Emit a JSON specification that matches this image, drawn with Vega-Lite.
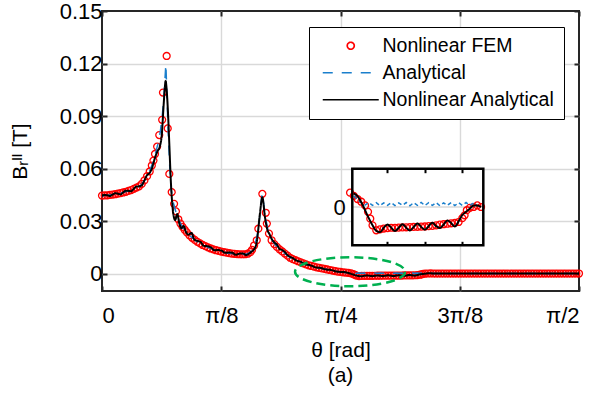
{
"$schema": "https://vega.github.io/schema/vega-lite/v6.json",
"width": 477, "height": 280,
"autosize": {"type": "none"},
"padding": {"left": 102, "top": 11, "right": 18, "bottom": 108},
"background": "white",
"config": {"font": "Liberation Sans", "view": {"stroke": "#262626", "strokeWidth": 2}},
"title": {"text": "(a)", "orient": "bottom", "anchor": "middle", "fontSize": 21, "fontWeight": "normal", "color": "#000", "offset": 5},
"datasets": {
"fem": [{"deg":0,"v":0.0445},{"deg":0.5,"v":0.0446},{"deg":1,"v":0.0447},{"deg":1.5,"v":0.0449},{"deg":2,"v":0.0451},{"deg":2.5,"v":0.0453},{"deg":3,"v":0.0456},{"deg":3.5,"v":0.0459},{"deg":4,"v":0.0463},{"deg":4.5,"v":0.0467},{"deg":5,"v":0.0472},{"deg":5.5,"v":0.0477},{"deg":6,"v":0.0484},{"deg":6.5,"v":0.0491},{"deg":7,"v":0.0498},{"deg":7.5,"v":0.0512},{"deg":8,"v":0.0532},{"deg":8.5,"v":0.0556},{"deg":9,"v":0.0583},{"deg":9.4,"v":0.0617},{"deg":9.7,"v":0.0645},{"deg":10,"v":0.0683},{"deg":10.4,"v":0.0725},{"deg":10.8,"v":0.0791},{"deg":11.35,"v":0.0878},{"deg":11.5,"v":0.1034},{"deg":12.2,"v":0.1243},{"deg":12.4,"v":0.0829},{"deg":12.7,"v":0.0569},{"deg":13.15,"v":0.0465},{"deg":13.6,"v":0.0398},{"deg":13.95,"v":0.0355},{"deg":14.4,"v":0.031},{"deg":14.8,"v":0.0285},{"deg":15.2,"v":0.0266},{"deg":15.6,"v":0.025},{"deg":16,"v":0.0235},{"deg":16.5,"v":0.0218},{"deg":17,"v":0.0204},{"deg":17.5,"v":0.0192},{"deg":18,"v":0.0181},{"deg":18.5,"v":0.0172},{"deg":19,"v":0.0163},{"deg":19.5,"v":0.0156},{"deg":20,"v":0.0149},{"deg":20.5,"v":0.0143},{"deg":21,"v":0.0138},{"deg":21.5,"v":0.0133},{"deg":22,"v":0.0129},{"deg":22.5,"v":0.0125},{"deg":23,"v":0.0122},{"deg":23.5,"v":0.0119},{"deg":24,"v":0.0116},{"deg":24.5,"v":0.0114},{"deg":25,"v":0.0112},{"deg":25.5,"v":0.0111},{"deg":26,"v":0.011},{"deg":26.5,"v":0.011},{"deg":27,"v":0.011},{"deg":27.5,"v":0.0113},{"deg":28,"v":0.0122},{"deg":28.3,"v":0.0135},{"deg":28.7,"v":0.016},{"deg":29.2,"v":0.019},{"deg":29.5,"v":0.0256},{"deg":30.25,"v":0.0455},{"deg":30.9,"v":0.0347},{"deg":31.1,"v":0.0285},{"deg":31.5,"v":0.0228},{"deg":32,"v":0.019},{"deg":32.5,"v":0.0168},{"deg":33,"v":0.0152},{"deg":33.5,"v":0.0138},{"deg":34,"v":0.0126},{"deg":34.5,"v":0.0114},{"deg":35,"v":0.0102},{"deg":35.5,"v":0.009},{"deg":36,"v":0.0082},{"deg":36.5,"v":0.0076},{"deg":37,"v":0.007},{"deg":37.5,"v":0.0064},{"deg":38,"v":0.0058},{"deg":38.5,"v":0.0052},{"deg":39,"v":0.0047},{"deg":39.5,"v":0.0043},{"deg":40,"v":0.0039},{"deg":40.5,"v":0.0035},{"deg":41,"v":0.0032},{"deg":41.5,"v":0.0029},{"deg":42,"v":0.0026},{"deg":42.5,"v":0.0023},{"deg":43,"v":0.002},{"deg":43.5,"v":0.0017},{"deg":44,"v":0.0014},{"deg":44.5,"v":0.0011},{"deg":45,"v":0.0009},{"deg":45.5,"v":0.0007},{"deg":46,"v":0.0005},{"deg":46.5,"v":0.00033},{"deg":47,"v":0.0001},{"deg":47.4,"v":-0.0003},{"deg":47.7,"v":-0.00073},{"deg":48,"v":-0.00115},{"deg":48.5,"v":-0.00146},{"deg":49,"v":-0.0014},{"deg":49.5,"v":-0.00135},{"deg":50,"v":-0.00132},{"deg":50.5,"v":-0.0013},{"deg":51,"v":-0.0013},{"deg":51.5,"v":-0.00129},{"deg":52,"v":-0.00128},{"deg":52.5,"v":-0.00127},{"deg":53,"v":-0.00126},{"deg":53.5,"v":-0.00125},{"deg":54,"v":-0.00124},{"deg":54.5,"v":-0.00123},{"deg":55,"v":-0.00122},{"deg":55.5,"v":-0.0012},{"deg":56,"v":-0.00118},{"deg":56.5,"v":-0.00115},{"deg":57,"v":-0.0011},{"deg":57.5,"v":-0.00108},{"deg":58,"v":-0.00105},{"deg":58.5,"v":-0.00102},{"deg":59,"v":-0.001},{"deg":59.5,"v":-0.00094},{"deg":60,"v":-0.0007},{"deg":60.3,"v":-0.00052},{"deg":60.6,"v":-0.0002},{"deg":61,"v":-0.00005},{"deg":61.5,"v":0},{"deg":62,"v":0.0001},{"deg":62.5,"v":0},{"deg":63,"v":0},{"deg":63.5,"v":0},{"deg":64,"v":0},{"deg":64.5,"v":0},{"deg":65,"v":0},{"deg":65.5,"v":0},{"deg":66,"v":0},{"deg":66.5,"v":0},{"deg":67,"v":0},{"deg":67.5,"v":0},{"deg":68,"v":0},{"deg":68.5,"v":0},{"deg":69,"v":0},{"deg":69.5,"v":0},{"deg":70,"v":0},{"deg":70.5,"v":0},{"deg":71,"v":0},{"deg":71.5,"v":0},{"deg":72,"v":0},{"deg":72.5,"v":0},{"deg":73,"v":0},{"deg":73.5,"v":0},{"deg":74,"v":0},{"deg":74.5,"v":0},{"deg":75,"v":0},{"deg":75.5,"v":0},{"deg":76,"v":0},{"deg":76.5,"v":0},{"deg":77,"v":0},{"deg":77.5,"v":0},{"deg":78,"v":0},{"deg":78.5,"v":0},{"deg":79,"v":0},{"deg":79.5,"v":0},{"deg":80,"v":0},{"deg":80.5,"v":0},{"deg":81,"v":0},{"deg":81.5,"v":0},{"deg":82,"v":0},{"deg":82.5,"v":0},{"deg":83,"v":0},{"deg":83.5,"v":0},{"deg":84,"v":0},{"deg":84.5,"v":0},{"deg":85,"v":0},{"deg":85.5,"v":0},{"deg":86,"v":0},{"deg":86.5,"v":0},{"deg":87,"v":0},{"deg":87.5,"v":0},{"deg":88,"v":0},{"deg":88.5,"v":0},{"deg":89,"v":0},{"deg":89.5,"v":0},{"deg":90,"v":0}],
"ana": [{"deg":0,"v":0.0444},{"deg":1,"v":0.0447},{"deg":2,"v":0.0451},{"deg":3,"v":0.0456},{"deg":4,"v":0.0463},{"deg":5,"v":0.0472},{"deg":6,"v":0.0484},{"deg":7,"v":0.0498},{"deg":7.5,"v":0.051},{"deg":8,"v":0.053},{"deg":8.5,"v":0.0555},{"deg":9,"v":0.0585},{"deg":9.5,"v":0.0625},{"deg":10,"v":0.0675},{"deg":10.5,"v":0.0735},{"deg":11,"v":0.081},{"deg":11.4,"v":0.091},{"deg":11.7,"v":0.102},{"deg":11.9,"v":0.112},{"deg":12.05,"v":0.1195},{"deg":12.25,"v":0.102},{"deg":12.5,"v":0.08},{"deg":12.8,"v":0.06},{"deg":13.1,"v":0.047},{"deg":13.5,"v":0.04},{"deg":14,"v":0.0345},{"deg":14.5,"v":0.0305},{"deg":15,"v":0.0275},{"deg":15.5,"v":0.0253},{"deg":16,"v":0.0235},{"deg":17,"v":0.0204},{"deg":18,"v":0.0181},{"deg":19,"v":0.0163},{"deg":20,"v":0.0149},{"deg":21,"v":0.0138},{"deg":22,"v":0.0129},{"deg":23,"v":0.0122},{"deg":24,"v":0.0116},{"deg":25,"v":0.0112},{"deg":26,"v":0.011},{"deg":27,"v":0.011},{"deg":27.5,"v":0.0113},{"deg":28,"v":0.0122},{"deg":28.5,"v":0.0145},{"deg":29,"v":0.018},{"deg":29.5,"v":0.025},{"deg":29.9,"v":0.036},{"deg":30.2,"v":0.0455},{"deg":30.5,"v":0.04},{"deg":30.9,"v":0.031},{"deg":31.3,"v":0.025},{"deg":31.7,"v":0.0215},{"deg":32.2,"v":0.0185},{"deg":33,"v":0.0152},{"deg":34,"v":0.0126},{"deg":35,"v":0.0102},{"deg":36,"v":0.0082},{"deg":37,"v":0.007},{"deg":38,"v":0.0058},{"deg":39,"v":0.0047},{"deg":40,"v":0.0039},{"deg":41,"v":0.0032},{"deg":42,"v":0.0026},{"deg":43,"v":0.002},{"deg":44,"v":0.0014},{"deg":45,"v":0.0009},{"deg":45.5,"v":0.0007},{"deg":46,"v":0.00045},{"deg":46.5,"v":0.00028},{"deg":47,"v":0.00012},{"deg":47.5,"v":0.00028},{"deg":48,"v":0.0001},{"deg":48.5,"v":0.00027},{"deg":49,"v":0.00008},{"deg":49.5,"v":0.00026},{"deg":50,"v":0.0001},{"deg":50.5,"v":0.00028},{"deg":51,"v":0.00009},{"deg":51.5,"v":0.00026},{"deg":52,"v":0.0001},{"deg":52.5,"v":0.00028},{"deg":53,"v":0.00008},{"deg":53.5,"v":0.00027},{"deg":54,"v":0.0001},{"deg":54.5,"v":0.00029},{"deg":55,"v":0.00009},{"deg":55.5,"v":0.00027},{"deg":56,"v":0.0001},{"deg":56.5,"v":0.00028},{"deg":57,"v":0.00008},{"deg":57.5,"v":0.00026},{"deg":58,"v":0.0001},{"deg":58.5,"v":0.00028},{"deg":59,"v":0.00009},{"deg":59.5,"v":0.00027},{"deg":60,"v":0.0001},{"deg":60.5,"v":0.00028},{"deg":61,"v":0.0001},{"deg":61.5,"v":0.00025},{"deg":62,"v":0.0001},{"deg":62.5,"v":0.00005},{"deg":63,"v":0},{"deg":90,"v":0}],
"nla": [{"deg":0,"v":0.0443},{"deg":0.5,"v":0.0449},{"deg":1,"v":0.0447},{"deg":1.5,"v":0.0443},{"deg":2,"v":0.0451},{"deg":2.5,"v":0.0459},{"deg":3,"v":0.0456},{"deg":3.5,"v":0.0452},{"deg":4,"v":0.0463},{"deg":4.5,"v":0.0473},{"deg":5,"v":0.0472},{"deg":5.5,"v":0.047},{"deg":6,"v":0.0484},{"deg":6.5,"v":0.0497},{"deg":7,"v":0.0498},{"deg":7.5,"v":0.0504},{"deg":8,"v":0.0532},{"deg":8.5,"v":0.0562},{"deg":9,"v":0.0575},{"deg":9.5,"v":0.0608},{"deg":10,"v":0.0662},{"deg":10.5,"v":0.07},{"deg":10.9,"v":0.0725},{"deg":11.3,"v":0.08},{"deg":11.6,"v":0.0949},{"deg":11.85,"v":0.106},{"deg":12,"v":0.11},{"deg":12.2,"v":0.105},{"deg":12.45,"v":0.092},{"deg":12.7,"v":0.074},{"deg":13,"v":0.052},{"deg":13.2,"v":0.042},{"deg":13.45,"v":0.0342},{"deg":13.8,"v":0.0305},{"deg":14.2,"v":0.034},{"deg":14.6,"v":0.0285},{"deg":15,"v":0.0258},{"deg":15.4,"v":0.0272},{"deg":15.8,"v":0.024},{"deg":16.3,"v":0.0222},{"deg":16.9,"v":0.0232},{"deg":17.4,"v":0.0195},{"deg":18,"v":0.0186},{"deg":18.6,"v":0.018},{"deg":19.2,"v":0.0158},{"deg":19.9,"v":0.0156},{"deg":20.6,"v":0.0148},{"deg":21.2,"v":0.0133},{"deg":21.9,"v":0.0134},{"deg":22.6,"v":0.013},{"deg":23.2,"v":0.0118},{"deg":23.9,"v":0.012},{"deg":24.6,"v":0.0119},{"deg":25.2,"v":0.0107},{"deg":25.9,"v":0.0113},{"deg":26.6,"v":0.0115},{"deg":27.2,"v":0.0105},{"deg":27.7,"v":0.0112},{"deg":28.2,"v":0.0125},{"deg":28.7,"v":0.0138},{"deg":29.2,"v":0.018},{"deg":29.8,"v":0.0343},{"deg":30.25,"v":0.0436},{"deg":30.75,"v":0.0322},{"deg":31.2,"v":0.025},{"deg":31.6,"v":0.0225},{"deg":32,"v":0.0198},{"deg":32.5,"v":0.0178},{"deg":33,"v":0.0165},{"deg":33.5,"v":0.014},{"deg":34,"v":0.0134},{"deg":34.5,"v":0.0122},{"deg":35,"v":0.0105},{"deg":35.5,"v":0.0095},{"deg":36,"v":0.0088},{"deg":36.5,"v":0.0077},{"deg":37,"v":0.0071},{"deg":37.5,"v":0.0067},{"deg":38,"v":0.0058},{"deg":38.5,"v":0.0051},{"deg":39,"v":0.0049},{"deg":39.5,"v":0.0045},{"deg":40,"v":0.0038},{"deg":40.5,"v":0.0034},{"deg":41,"v":0.0033},{"deg":41.5,"v":0.003},{"deg":42,"v":0.0025},{"deg":42.5,"v":0.0022},{"deg":43,"v":0.0021},{"deg":43.5,"v":0.0018},{"deg":44,"v":0.0013},{"deg":44.5,"v":0.001},{"deg":45,"v":0.0009},{"deg":45.5,"v":0.00086},{"deg":46,"v":0.00068},{"deg":46.5,"v":0.0003},{"deg":47,"v":-0.0002},{"deg":47.5,"v":-0.0007},{"deg":48,"v":-0.00115},{"deg":48.5,"v":-0.0015},{"deg":49,"v":-0.00158},{"deg":49.5,"v":-0.0013},{"deg":50,"v":-0.0011},{"deg":50.5,"v":-0.0013},{"deg":51,"v":-0.0015},{"deg":51.5,"v":-0.0013},{"deg":52,"v":-0.00108},{"deg":52.5,"v":-0.0013},{"deg":53,"v":-0.00147},{"deg":53.5,"v":-0.00125},{"deg":54,"v":-0.00103},{"deg":54.5,"v":-0.00125},{"deg":55,"v":-0.00142},{"deg":55.5,"v":-0.0012},{"deg":56,"v":-0.00098},{"deg":56.5,"v":-0.0012},{"deg":57,"v":-0.00132},{"deg":57.5,"v":-0.0011},{"deg":58,"v":-0.00085},{"deg":58.5,"v":-0.001},{"deg":59,"v":-0.00122},{"deg":59.5,"v":-0.0009},{"deg":60,"v":-0.0005},{"deg":60.5,"v":-0.0003},{"deg":61,"v":-0.0001},{"deg":61.5,"v":0.0001},{"deg":62,"v":0.0001},{"deg":62.5,"v":0},{"deg":90,"v":0}],
"ell": [{"deg": 46.8, "v": 0.001}],
"box": [{"d1": 45.3, "d2": 62.8, "v1": -0.0024, "v2": 0.0024}]
},
"layer": [
{
"layer": [
{
"data": {"name": "fem"},
"mark": {"type": "point", "filled": false, "size": 48, "strokeWidth": 1.3, "opacity": 1},
"encoding": {
"x": {"field": "deg", "type": "quantitative", "scale": {"domain": [0, 90], "nice": false, "zero": false},
 "axis": {"orient": "bottom", "values": [0, 22.5, 45, 67.5, 90], "labelExpr": "datum.value < 1 ? '0' : datum.value < 30 ? 'π/8' : datum.value < 50 ? 'π/4' : datum.value < 80 ? '3π/8' : 'π/2'", "title": "θ [rad]", "titleFontSize": 21, "titleFontWeight": "normal", "titleColor": "#000", "titlePadding": 13, "labelFontSize": 22, "labelColor": "#000", "labelPadding": 19, "tickSize": -5, "tickWidth": 2, "tickColor": "#262626", "domain": false, "grid": true, "gridWidth": 1.4, "gridColor": {"condition": {"test": "datum.value < 1 || datum.value > 89", "value": "transparent"}, "value": "#d9d9d9"}}},
"y": {"field": "v", "type": "quantitative", "scale": {"domain": [-0.01, 0.15], "nice": false, "zero": false},
 "axis": {"orient": "left", "values": [0, 0.03, 0.06, 0.09, 0.12, 0.15], "labelExpr": "datum.value == 0 ? '0' : format(datum.value, '.2f')", "title": "Bᵣᴵᴵ [T]", "titleFontSize": 21, "titleFontWeight": "normal", "titleColor": "#000", "titlePadding": 29, "labelFontSize": 22, "labelColor": "#000", "labelPadding": 5, "tickSize": -5, "tickWidth": 2, "tickColor": "#262626", "domain": false, "grid": true, "gridWidth": 1.4, "gridColor": {"condition": {"test": "datum.value > 0.149", "value": "transparent"}, "value": "#d9d9d9"}}},
"color": {"datum": "Nonlinear FEM", "type": "nominal",
 "scale": {"domain": ["Nonlinear FEM", "Analytical", "Nonlinear Analytical"], "range": ["#ff0000", "#1a7fcc", "#000000"]},
 "legend": {"title": null, "orient": "none", "legendX": 207, "legendY": 16, "padding": 9, "symbolSize": 49, "symbolStrokeWidth": 1.7, "symbolOffset": 23, "labelFont": "Liberation Sans", "labelFontSize": 19.5, "labelColor": "#000", "labelOffset": 22, "rowPadding": 6, "strokeColor": "#000", "fillColor": "#fff", "cornerRadius": 0, "labelLimit": 400,
  "encode": {"legend": {"strokeWidth": {"value": 1.5}}}}},
"shape": {"datum": "Nonlinear FEM", "type": "nominal",
 "scale": {"domain": ["Nonlinear FEM", "Analytical", "Nonlinear Analytical"], "range": ["circle", "M-8,0H8", "M-8,0H8"]},
 "legend": {"title": null}}
}
},
{
"data": {"name": "ana"},
"mark": {"type": "line", "strokeWidth": 1.5, "clip": true},
"encoding": {
"x": {"field": "deg", "type": "quantitative", "axis": null},
"y": {"field": "v", "type": "quantitative", "axis": null},
"color": {"datum": "Analytical", "type": "nominal"},
"strokeDash": {"datum": "Analytical", "type": "nominal",
 "scale": {"domain": ["Nonlinear FEM", "Analytical", "Nonlinear Analytical"], "range": [[1, 0], [10, 9], [1, 0]]},
 "legend": {"title": null}}
}
},
{
"data": {"name": "nla"},
"mark": {"type": "line", "strokeWidth": 2, "interpolate": "monotone", "clip": true},
"encoding": {
"x": {"field": "deg", "type": "quantitative", "axis": null},
"y": {"field": "v", "type": "quantitative", "axis": null},
"color": {"datum": "Nonlinear Analytical", "type": "nominal"},
"strokeDash": {"datum": "Nonlinear Analytical", "type": "nominal"}
}
},
{
"data": {"name": "ell"},
"mark": {"type": "point", "shape": "M1,0C1,0.146 0.552,0.264 0,0.264C-0.552,0.264 -1,0.146 -1,0C-1,-0.146 -0.552,-0.264 0,-0.264C0.552,-0.264 1,-0.146 1,0Z", "size": 12100, "filled": false, "stroke": "#00b050", "strokeWidth": 2.5, "strokeDash": [9, 5], "opacity": 1},
"encoding": {
"x": {"field": "deg", "type": "quantitative", "axis": null},
"y": {"field": "v", "type": "quantitative", "axis": null}
}
},
{
"data": {"name": "fem"},
"mark": {"type": "point", "opacity": 0},
"encoding": {
"x": {"field": "deg", "type": "quantitative", "axis": {"orient": "top", "values": [0, 22.5, 45, 67.5, 90], "labels": false, "title": null, "grid": false, "domain": false, "tickSize": -5, "tickWidth": 2, "tickColor": "#262626"}},
"y": {"field": "v", "type": "quantitative", "axis": {"orient": "right", "values": [0, 0.03, 0.06, 0.09, 0.12, 0.15], "labels": false, "title": null, "grid": false, "domain": false, "tickSize": -5, "tickWidth": 2, "tickColor": "#262626"}}
}
}
],
"resolve": {"axis": {"x": "independent", "y": "independent"}}
},
{
"layer": [
{
"data": {"name": "box"},
"mark": {"type": "rect", "fill": "#ffffff"},
"encoding": {
"x": {"field": "d1", "type": "quantitative", "scale": {"domain": [45.3, 62.8], "range": [250.3, 381.3], "nice": false, "zero": false},
 "axis": {"orient": "bottom", "offset": -45.7, "values": [50, 55, 60], "labels": false, "title": null, "grid": false, "domain": false, "tickSize": -4, "tickWidth": 2, "tickColor": "#000", "zindex": 1}},
"x2": {"field": "d2"},
"y": {"field": "v1", "type": "quantitative", "scale": {"domain": [-0.0024, 0.0024], "range": [234.3, 157.7], "nice": false, "zero": false},
 "axis": {"orient": "left", "offset": -250.3, "values": [0], "labelExpr": "'0'", "labelFontSize": 22, "labelColor": "#000", "labelPadding": 7, "ticks": false, "title": null, "grid": false, "domain": false, "zindex": 1}},
"y2": {"field": "v2"}
}
},
{
"data": {"name": "box"},
"mark": {"type": "rule", "color": "#d9d9d9", "strokeWidth": 1.4},
"encoding": {
"x": {"field": "d1", "type": "quantitative", "axis": null},
"x2": {"field": "d2"},
"y": {"datum": 0, "type": "quantitative", "axis": null}
}
},
{
"data": {"name": "fem"},
"transform": [{"filter": "datum.deg >= 45 && datum.deg <= 62.8"}],
"mark": {"type": "point", "filled": false, "size": 48, "strokeWidth": 1.3, "opacity": 1, "color": "#ff0000"},
"encoding": {
"x": {"field": "deg", "type": "quantitative", "axis": null},
"y": {"field": "v", "type": "quantitative", "axis": null}
}
},
{
"data": {"name": "ana"},
"transform": [{"filter": "datum.deg >= 45.4 && datum.deg <= 62.8"}],
"mark": {"type": "line", "strokeWidth": 1.5, "strokeDash": [4, 3], "color": "#1a7fcc"},
"encoding": {
"x": {"field": "deg", "type": "quantitative", "axis": null},
"y": {"field": "v", "type": "quantitative", "axis": null}
}
},
{
"data": {"name": "nla"},
"transform": [{"filter": "datum.deg >= 45.4 && datum.deg <= 62.8"}],
"mark": {"type": "line", "strokeWidth": 2, "interpolate": "monotone", "color": "#000000"},
"encoding": {
"x": {"field": "deg", "type": "quantitative", "axis": null},
"y": {"field": "v", "type": "quantitative", "axis": null}
}
},
{
"data": {"name": "box"},
"mark": {"type": "rect", "fill": null, "fillOpacity": 0, "stroke": "#000000", "strokeWidth": 2.5},
"encoding": {
"x": {"field": "d1", "type": "quantitative", "axis": {"orient": "top", "offset": -157.7, "values": [50, 55, 60], "labels": false, "title": null, "grid": false, "domain": false, "tickSize": -4, "tickWidth": 2, "tickColor": "#000", "zindex": 1}},
"x2": {"field": "d2"},
"y": {"field": "v1", "type": "quantitative", "axis": null},
"y2": {"field": "v2"}
}
}
],
"resolve": {"axis": {"x": "independent", "y": "independent"}}
}
],
"resolve": {"scale": {"x": "independent", "y": "independent"}, "axis": {"x": "independent", "y": "independent"}}
}
